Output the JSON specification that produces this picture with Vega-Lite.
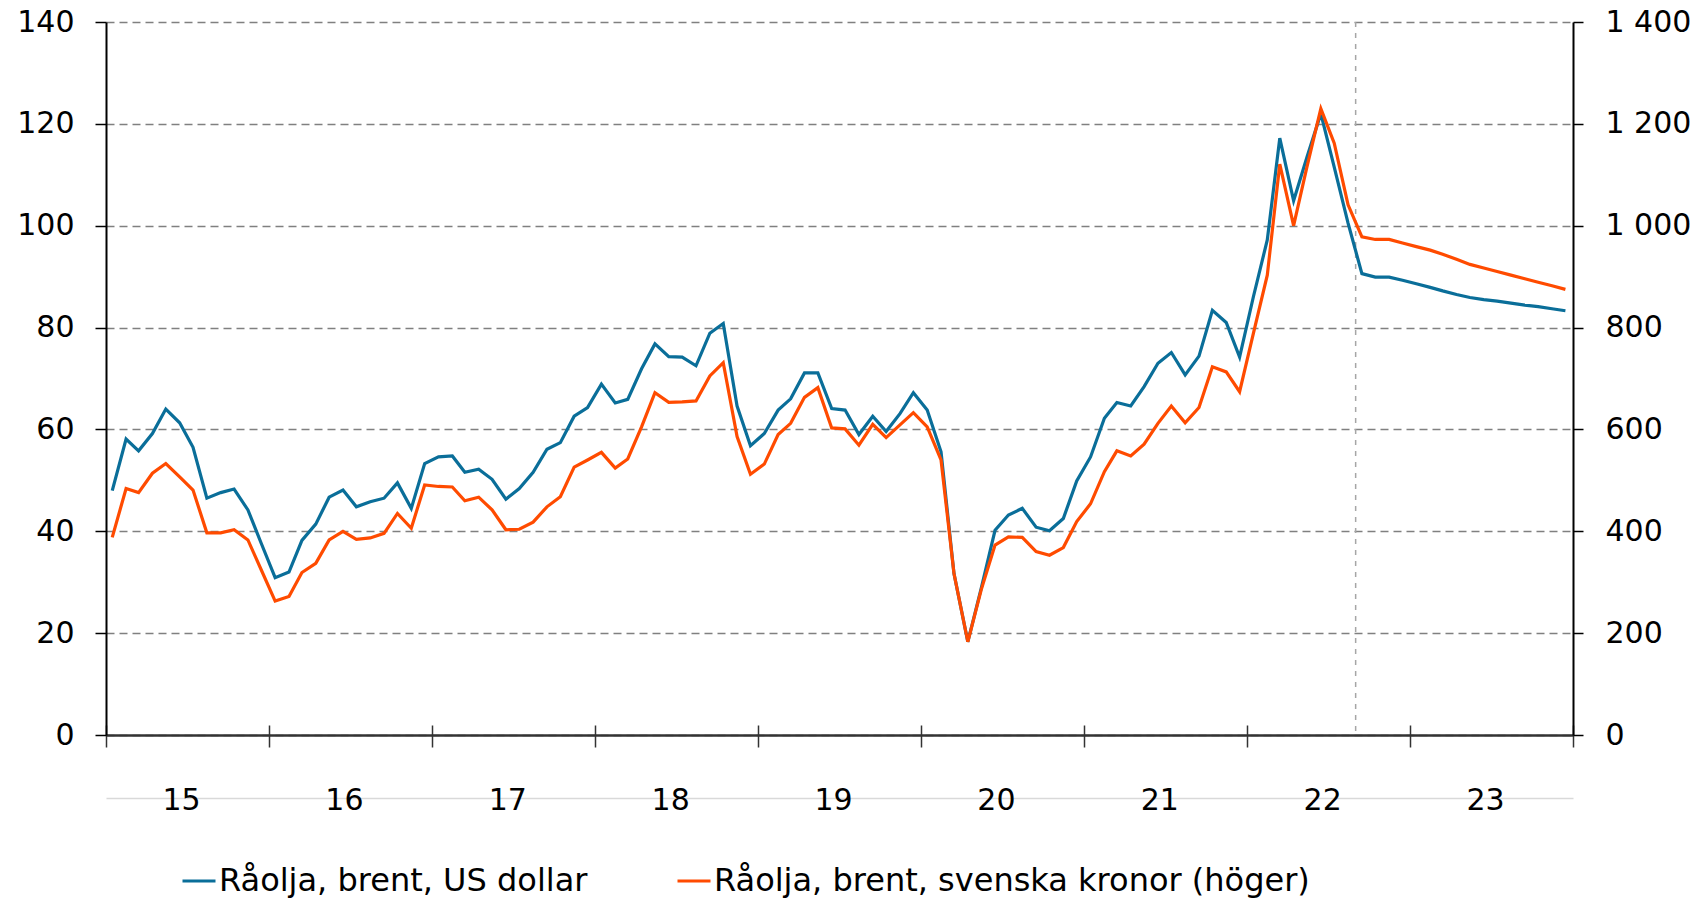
{
  "$schema": "https://vega.github.io/schema/vega-lite/v6.json",
  "width": 1467,
  "height": 713,
  "autosize": {"type": "none"},
  "padding": {"left": 106, "top": 22, "right": 130, "bottom": 167},
  "background": "white",
  "config": {
    "font": "DejaVu Sans",
    "view": {"stroke": null},
    "axis": {"labelFont": "DejaVu Sans", "labelFontSize": 30, "labelColor": "#000000"}
  },
  "data": {
    "values": [
      {"date": "2015-01-15", "usd": 48.0, "sek": 388},
      {"date": "2015-02-15", "usd": 58.1, "sek": 484},
      {"date": "2015-03-15", "usd": 55.8, "sek": 476},
      {"date": "2015-04-15", "usd": 59.2, "sek": 514},
      {"date": "2015-05-15", "usd": 64.0, "sek": 533},
      {"date": "2015-06-15", "usd": 61.3, "sek": 507},
      {"date": "2015-07-15", "usd": 56.5, "sek": 481},
      {"date": "2015-08-15", "usd": 46.5, "sek": 397},
      {"date": "2015-09-15", "usd": 47.6, "sek": 397},
      {"date": "2015-10-15", "usd": 48.3, "sek": 403},
      {"date": "2015-11-15", "usd": 44.2, "sek": 383},
      {"date": "2015-12-15", "usd": 37.6, "sek": 324},
      {"date": "2016-01-15", "usd": 30.9, "sek": 263},
      {"date": "2016-02-15", "usd": 32.0, "sek": 272},
      {"date": "2016-03-15", "usd": 38.2, "sek": 319},
      {"date": "2016-04-15", "usd": 41.4, "sek": 337},
      {"date": "2016-05-15", "usd": 46.7, "sek": 383},
      {"date": "2016-06-15", "usd": 48.1, "sek": 400},
      {"date": "2016-07-15", "usd": 44.8, "sek": 384},
      {"date": "2016-08-15", "usd": 45.8, "sek": 387},
      {"date": "2016-09-15", "usd": 46.5, "sek": 396},
      {"date": "2016-10-15", "usd": 49.5, "sek": 435},
      {"date": "2016-11-15", "usd": 44.5, "sek": 406},
      {"date": "2016-12-15", "usd": 53.3, "sek": 491},
      {"date": "2017-01-15", "usd": 54.6, "sek": 488},
      {"date": "2017-02-15", "usd": 54.8, "sek": 487},
      {"date": "2017-03-15", "usd": 51.6, "sek": 460},
      {"date": "2017-04-15", "usd": 52.2, "sek": 467},
      {"date": "2017-05-15", "usd": 50.2, "sek": 442},
      {"date": "2017-06-15", "usd": 46.3, "sek": 403},
      {"date": "2017-07-15", "usd": 48.4, "sek": 404},
      {"date": "2017-08-15", "usd": 51.6, "sek": 418},
      {"date": "2017-09-15", "usd": 56.1, "sek": 448},
      {"date": "2017-10-15", "usd": 57.4, "sek": 468},
      {"date": "2017-11-15", "usd": 62.6, "sek": 526},
      {"date": "2017-12-15", "usd": 64.3, "sek": 540},
      {"date": "2018-01-15", "usd": 68.9, "sek": 555},
      {"date": "2018-02-15", "usd": 65.2, "sek": 524},
      {"date": "2018-03-15", "usd": 65.9, "sek": 542},
      {"date": "2018-04-15", "usd": 71.9, "sek": 605},
      {"date": "2018-05-15", "usd": 76.8, "sek": 672},
      {"date": "2018-06-15", "usd": 74.3, "sek": 653},
      {"date": "2018-07-15", "usd": 74.2, "sek": 654},
      {"date": "2018-08-15", "usd": 72.5, "sek": 656},
      {"date": "2018-09-15", "usd": 78.9, "sek": 705},
      {"date": "2018-10-15", "usd": 80.8, "sek": 731},
      {"date": "2018-11-15", "usd": 64.6, "sek": 586},
      {"date": "2018-12-15", "usd": 56.8, "sek": 512},
      {"date": "2019-01-15", "usd": 59.2, "sek": 532},
      {"date": "2019-02-15", "usd": 63.8, "sek": 590},
      {"date": "2019-03-15", "usd": 66.0, "sek": 612},
      {"date": "2019-04-15", "usd": 71.1, "sek": 663},
      {"date": "2019-05-15", "usd": 71.1, "sek": 682},
      {"date": "2019-06-15", "usd": 64.1, "sek": 603},
      {"date": "2019-07-15", "usd": 63.8, "sek": 601},
      {"date": "2019-08-15", "usd": 59.0, "sek": 569},
      {"date": "2019-09-15", "usd": 62.6, "sek": 610},
      {"date": "2019-10-15", "usd": 59.6, "sek": 584},
      {"date": "2019-11-15", "usd": 63.1, "sek": 609},
      {"date": "2019-12-15", "usd": 67.2, "sek": 633},
      {"date": "2020-01-15", "usd": 63.8, "sek": 605},
      {"date": "2020-02-15", "usd": 55.6, "sek": 540},
      {"date": "2020-03-15", "usd": 31.7, "sek": 317},
      {"date": "2020-04-15", "usd": 18.3, "sek": 183},
      {"date": "2020-05-15", "usd": 28.8, "sek": 285},
      {"date": "2020-06-15", "usd": 40.2, "sek": 373},
      {"date": "2020-07-15", "usd": 43.2, "sek": 389},
      {"date": "2020-08-15", "usd": 44.5, "sek": 388},
      {"date": "2020-09-15", "usd": 40.8, "sek": 360},
      {"date": "2020-10-15", "usd": 40.1, "sek": 353},
      {"date": "2020-11-15", "usd": 42.5, "sek": 368},
      {"date": "2020-12-15", "usd": 49.9, "sek": 419},
      {"date": "2021-01-15", "usd": 54.6, "sek": 454},
      {"date": "2021-02-15", "usd": 62.2, "sek": 517},
      {"date": "2021-03-15", "usd": 65.3, "sek": 558},
      {"date": "2021-04-15", "usd": 64.6, "sek": 548},
      {"date": "2021-05-15", "usd": 68.4, "sek": 571},
      {"date": "2021-06-15", "usd": 73.0, "sek": 612},
      {"date": "2021-07-15", "usd": 75.1, "sek": 646},
      {"date": "2021-08-15", "usd": 70.7, "sek": 613},
      {"date": "2021-09-15", "usd": 74.4, "sek": 643},
      {"date": "2021-10-15", "usd": 83.4, "sek": 723},
      {"date": "2021-11-15", "usd": 81.0, "sek": 713},
      {"date": "2021-12-15", "usd": 74.2, "sek": 674},
      {"date": "2022-01-15", "usd": 86.1, "sek": 789},
      {"date": "2022-02-15", "usd": 97.2, "sek": 903},
      {"date": "2022-03-15", "usd": 117.2, "sek": 1121},
      {"date": "2022-04-15", "usd": 104.9, "sek": 1000},
      {"date": "2022-05-15", "usd": 113.5, "sek": 1116},
      {"date": "2022-06-15", "usd": 122.0, "sek": 1230},
      {"date": "2022-07-15", "usd": 111.5, "sek": 1162},
      {"date": "2022-08-15", "usd": 100.5, "sek": 1041},
      {"date": "2022-09-15", "usd": 90.6, "sek": 978},
      {"date": "2022-10-15", "usd": 89.9, "sek": 973},
      {"date": "2022-11-15", "usd": 89.9, "sek": 973},
      {"date": "2022-12-15", "usd": 89.3, "sek": 966},
      {"date": "2023-01-15", "usd": 88.6, "sek": 959},
      {"date": "2023-02-15", "usd": 87.9, "sek": 952},
      {"date": "2023-03-15", "usd": 87.2, "sek": 944},
      {"date": "2023-04-15", "usd": 86.5, "sek": 934},
      {"date": "2023-05-15", "usd": 85.9, "sek": 924},
      {"date": "2023-06-15", "usd": 85.5, "sek": 917},
      {"date": "2023-07-15", "usd": 85.2, "sek": 910},
      {"date": "2023-08-15", "usd": 84.8, "sek": 903},
      {"date": "2023-09-15", "usd": 84.4, "sek": 896},
      {"date": "2023-10-15", "usd": 84.1, "sek": 889},
      {"date": "2023-11-15", "usd": 83.7, "sek": 882},
      {"date": "2023-12-15", "usd": 83.3, "sek": 875}
    ]
  },
  "layer": [
    {
      "data": {"values": [{"date": "2022-09-01"}]},
      "mark": {"type": "rule", "color": "#a6a6a6", "strokeWidth": 1.5, "strokeDash": [5, 6]},
      "encoding": {
        "x": {
          "field": "date", "type": "temporal",
          "scale": {"type": "utc", "domain": [{"year": 2015, "month": 1, "date": 1, "utc": true}, {"year": 2024, "month": 1, "date": 1, "utc": true}]},
          "axis": {"orient": "bottom", "offset": 63, "domainColor": "#d9d9d9", "domainWidth": 1.5, "ticks": false, "labels": false, "grid": false, "title": null}
        }
      }
    },
    {
      "mark": {"type": "line", "strokeWidth": 3.2},
      "encoding": {
        "x": {
          "field": "date", "type": "temporal",
          "scale": {"type": "utc", "domain": [{"year": 2015, "month": 1, "date": 1, "utc": true}, {"year": 2024, "month": 1, "date": 1, "utc": true}]},
          "axis": {
            "orient": "bottom", "title": null, "grid": false,
            "tickCount": {"interval": "year", "step": 1},
            "labelExpr": "utcyear(datum.value) >= 2024 ? '' : utcFormat(datum.value, '%y')",
            "labelOffset": 75, "labelPadding": 38, "labelAlign": "center", "labelBaseline": "top",
            "labelFlush": false, "labelOverlap": false, "labelBound": false,
            "tickSize": 12, "tickColor": "#333333", "tickWidth": 1.5,
            "domainColor": "#333333", "domainWidth": 2.5
          }
        },
        "y": {
          "field": "usd", "type": "quantitative",
          "scale": {"domain": [0, 140]},
          "axis": {
            "orient": "left", "title": null, "values": [0, 20, 40, 60, 80, 100, 120, 140],
            "tickSize": 11, "tickColor": "#000000", "tickWidth": 1.5,
            "domainColor": "#000000", "domainWidth": 2, "labelPadding": 21,
            "grid": true, "gridColor": "#808080", "gridDash": [8, 5], "gridWidth": 1.5
          }
        },
        "color": {
          "datum": "Råolja, brent, US dollar",
          "scale": {
            "domain": ["Råolja, brent, US dollar", "Råolja, brent, svenska kronor (höger)"],
            "range": ["#0a6e99", "#ff4b00"]
          },
          "legend": {
            "orient": "none", "legendX": 75, "legendY": 841, "direction": "horizontal",
            "title": null, "symbolType": "stroke", "symbolSize": 1089, "symbolStrokeWidth": 3,
            "labelFontSize": 32, "labelFont": "DejaVu Sans", "labelColor": "#000000",
            "labelOffset": 2, "columnPadding": 83, "labelLimit": 1000
          }
        }
      }
    },
    {
      "mark": {"type": "line", "strokeWidth": 3.2},
      "encoding": {
        "x": {
          "field": "date", "type": "temporal",
          "scale": {"type": "utc", "domain": [{"year": 2015, "month": 1, "date": 1, "utc": true}, {"year": 2024, "month": 1, "date": 1, "utc": true}]},
          "axis": {
            "orient": "bottom", "title": null, "grid": false, "labels": false, "domain": false,
            "tickCount": {"interval": "year", "step": 1},
            "tickSize": -10, "tickColor": "#333333", "tickWidth": 1.5
          }
        },
        "y": {
          "field": "sek", "type": "quantitative",
          "scale": {"domain": [0, 1400]},
          "axis": {
            "orient": "right", "title": null, "values": [0, 200, 400, 600, 800, 1000, 1200, 1400],
            "labelExpr": "replace(format(datum.value, ','), ',', ' ')",
            "tickSize": 10, "tickColor": "#000000", "tickWidth": 1.5,
            "domainColor": "#000000", "domainWidth": 2, "labelPadding": 22, "grid": false
          }
        },
        "color": {"datum": "Råolja, brent, svenska kronor (höger)"}
      }
    }
  ],
  "resolve": {"scale": {"y": "independent"}, "axis": {"x": "independent"}}
}
